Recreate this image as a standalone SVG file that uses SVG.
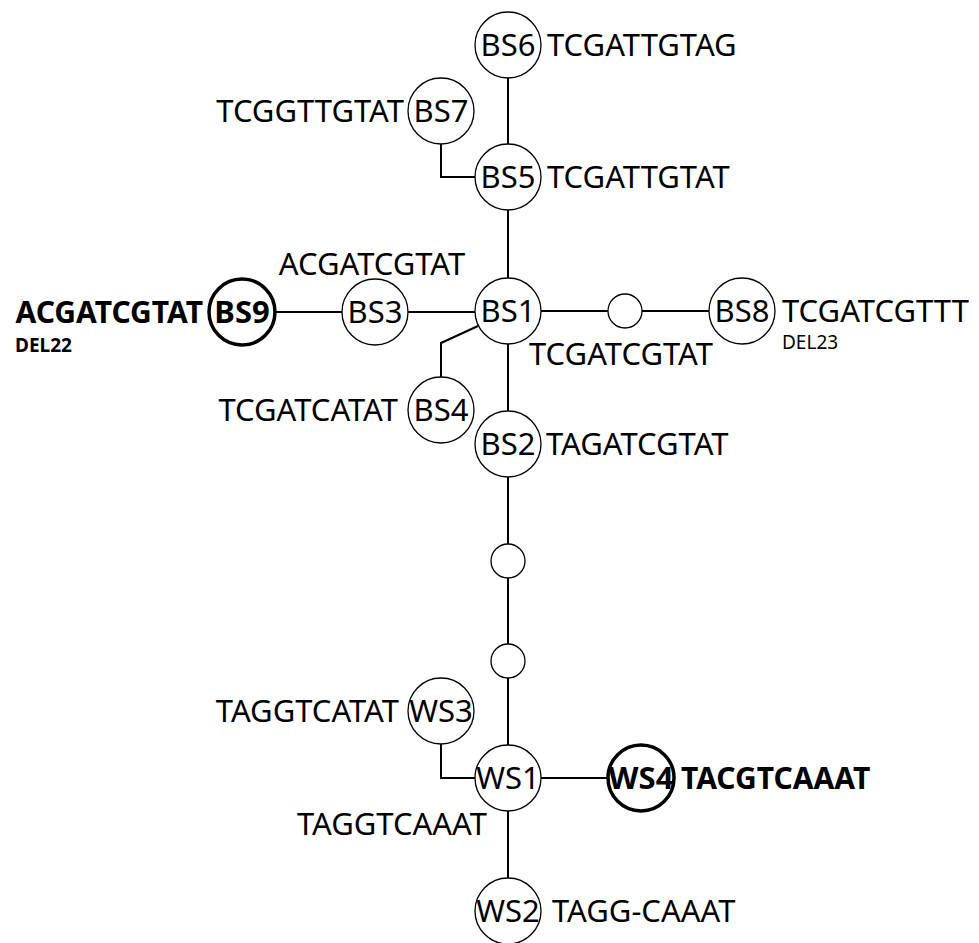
<svg xmlns="http://www.w3.org/2000/svg" width="979" height="943" viewBox="0 0 979 943">
<style>
  .n { fill: #fff; stroke: #000; stroke-width: 1.3; }
  .nb { fill: #fff; stroke: #000; stroke-width: 3.5; }
  .s { fill: #fff; stroke: #000; stroke-width: 1.3; }
  .c { fill: none; stroke: #000; stroke-width: 2; }
  text { font-family: "Noto Sans", "Open Sans", sans-serif; font-size: 31px; fill: #000; }
  .in { text-anchor: middle; }
  .b { font-weight: bold; }
  .bs { font-size: 30px; }
  .sm { font-size: 19px; }
  .e { text-anchor: end; }
</style>
<rect width="979" height="943" fill="#fff"/>
<g id="connectors">
  <path class="c" d="M508,78 V144"/>
  <path class="c" d="M441,144 V177 H475"/>
  <path class="c" d="M508,210 V278"/>
  <path class="c" d="M275,312 H342"/>
  <path class="c" d="M408,312 H475"/>
  <path class="c" d="M541,311 H608"/>
  <path class="c" d="M642,311 H709"/>
  <path class="c" d="M478,326 L441,343 V377"/>
  <path class="c" d="M508,344 V411"/>
  <path class="c" d="M508,477 V544"/>
  <path class="c" d="M508,578 V644"/>
  <path class="c" d="M508,678 V745"/>
  <path class="c" d="M441,744 V778 H475"/>
  <path class="c" d="M541,778 H608"/>
  <path class="c" d="M508,811 V878"/>
</g>
<g id="BS6"><circle class="n" cx="508" cy="45" r="33"/><text class="in" x="508" y="56">BS6</text><text x="547" y="56">TCGATTGTAG</text></g>
<g id="BS7"><circle class="n" cx="441" cy="111" r="33"/><text class="in" x="441" y="122">BS7</text><text class="e" x="404" y="122">TCGGTTGTAT</text></g>
<g id="BS5"><circle class="n" cx="508" cy="177" r="33"/><text class="in" x="508" y="188">BS5</text><text x="547" y="188">TCGATTGTAT</text></g>
<g id="BS1"><circle class="n" cx="508" cy="311" r="33"/><text class="in" x="508" y="322">BS1</text><text x="529" y="365">TCGATCGTAT</text></g>
<g id="BS3"><circle class="n" cx="375" cy="312" r="33"/><text class="in" x="375" y="323">BS3</text><text class="in" x="372" y="275">ACGATCGTAT</text></g>
<g id="BS9"><circle class="nb" cx="242" cy="312" r="33"/><text class="in b" x="242" y="323">BS9</text><text class="e b bs" x="203" y="323">ACGATCGTAT</text><text class="b sm" x="15" y="352">DEL22</text></g>
<g id="M1"><circle class="s" cx="625" cy="311" r="17"/></g>
<g id="BS8"><circle class="n" cx="742" cy="311" r="33"/><text class="in" x="742" y="322">BS8</text><text x="782" y="322">TCGATCGTTT</text><text class="sm" x="782" y="349">DEL23</text></g>
<g id="BS4"><circle class="n" cx="441" cy="410" r="33"/><text class="in" x="441" y="421">BS4</text><text class="e" x="398" y="421">TCGATCATAT</text></g>
<g id="BS2"><circle class="n" cx="508" cy="444" r="33"/><text class="in" x="508" y="455">BS2</text><text x="546" y="455">TAGATCGTAT</text></g>
<g id="M2"><circle class="s" cx="508" cy="561" r="17"/></g>
<g id="M3"><circle class="s" cx="508" cy="661" r="17"/></g>
<g id="WS3"><circle class="n" cx="441" cy="711" r="33"/><text class="in" x="441" y="722">WS3</text><text class="e" x="399" y="722">TAGGTCATAT</text></g>
<g id="WS1"><circle class="n" cx="508" cy="778" r="33"/><text class="in" x="508" y="789">WS1</text><text class="e" x="487" y="835">TAGGTCAAAT</text></g>
<g id="WS4"><circle class="nb" cx="641" cy="778" r="33"/><text class="in b" x="641" y="789">WS4</text><text class="b bs" x="681" y="789">TACGTCAAAT</text></g>
<g id="WS2"><circle class="n" cx="508" cy="911" r="33"/><text class="in" x="508" y="922">WS2</text><text x="552" y="922">TAGG-CAAAT</text></g>
</svg>
